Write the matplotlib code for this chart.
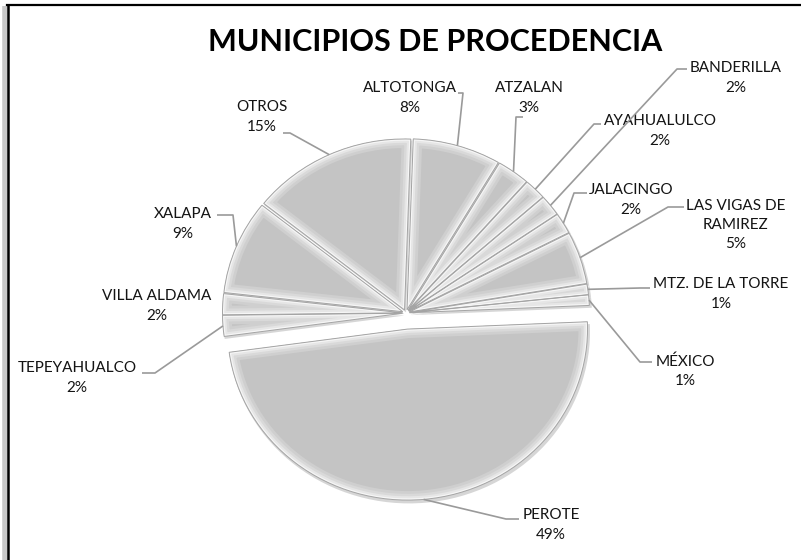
import matplotlib
matplotlib.use("Agg")
import matplotlib.pyplot as plt
from matplotlib.patches import Wedge
import numpy as np

# ---- data ----
municipios = ["ALTOTONGA", "ATZALAN", "AYAHUALULCO", "BANDERILLA", "JALACINGO",
              "LAS VIGAS DE\nRAMIREZ", "MTZ. DE LA TORRE", "MÉXICO", "PEROTE",
              "TEPEYAHUALCO", "VILLA ALDAMA", "XALAPA", "OTROS"]
porcentajes = [8, 3, 2, 2, 2, 5, 1, 1, 49, 2, 2, 9, 15]
titulo = "MUNICIPIOS DE PROCEDENCIA"

# ---- layout (pixel positions, top-left origin) ----
W, H = 801, 560
SY = 0.95  # vertical squash of the tilted pie
label_pos = {   # centre of text block
    "ALTOTONGA": (410, 98), "ATZALAN": (529, 98), "AYAHUALULCO": (660, 131),
    "BANDERILLA": (736, 78), "JALACINGO": (631, 200), "LAS VIGAS DE\nRAMIREZ": (736, 225),
    "MTZ. DE LA TORRE": (721, 294), "MÉXICO": (685, 371), "PEROTE": (551, 525),
    "TEPEYAHUALCO": (77, 378), "VILLA ALDAMA": (157, 306), "XALAPA": (183, 224),
    "OTROS": (262, 117),
}
leader = {   # (start at label, elbow) ; end is computed on the wedge edge
    "ALTOTONGA": [(458, 93), (463, 93)],
    "ATZALAN": [(523, 117), (516, 117)],
    "AYAHUALULCO": [(601, 124), (594, 124)],
    "BANDERILLA": [(687, 69), (677, 69)],
    "JALACINGO": [(587, 193), (574, 193)],
    "LAS VIGAS DE\nRAMIREZ": [(684, 207), (668, 207)],
    "MTZ. DE LA TORRE": [(650, 288), (640, 288)],
    "MÉXICO": [(652, 362), (640, 362)],
    "PEROTE": [(519, 519), (506, 519)],
    "TEPEYAHUALCO": [(142, 373), (155, 373)],
    "XALAPA": [(217, 215), (233, 215)],
    "OTROS": [(283, 133), (290, 133)],
}
CX, CY, R = 406, 313, 180
GAP_SMALL, GAP_BIG = 3.5, 17

def px(x, y):
    return x, (H - y) / SY

plt.rcParams['font.family'] = ['Lato', 'DejaVu Sans']
fig = plt.figure(figsize=(W / 100, H / 100), dpi=100)
ax = fig.add_axes([0, 0, 1, 1])

explode = [GAP_BIG if p == max(porcentajes) else GAP_SMALL for p in porcentajes]
wedges, _ = ax.pie(porcentajes, explode=explode, startangle=88, counterclock=False,
                   center=px(CX, CY), radius=R,
                   colors=['#c4c4c4'] * len(porcentajes),
                   wedgeprops=dict(edgecolor='none', linewidth=0, zorder=3))
ax.set_aspect('auto')
ax.set_xlim(0, W)
ax.set_ylim(0, H / SY)
ax.axis('off')

for w in wedges:
    c, r, t1, t2 = w.center, w.r, w.theta1, w.theta2
    sh = Wedge((c[0] + 1.5, c[1] - 2.5), r + 1, t1, t2, facecolor='#8a8a8a', alpha=0.35,
               edgecolor='none', zorder=2)
    ax.add_patch(sh)
    for lw, col in [(13, '#cfcfcf'), (9, '#d9d9d9'), (5.5, '#e6e6e6'), (2.5, '#f6f6f6')]:
        b = Wedge(c, r, t1, t2, facecolor='none', edgecolor=col, linewidth=lw, zorder=4,
                  joinstyle='miter')
        ax.add_patch(b)
        b.set_clip_path(w)
    ax.add_patch(Wedge(c, r, t1, t2, facecolor='none', edgecolor='#a4a4a4',
                       linewidth=0.7, zorder=5))

for w, name, p in zip(wedges, municipios, porcentajes):
    lx, ly = label_pos[name]
    ax.text(*px(lx, ly), f"{name}\n{p}%", ha='center', va='center', fontsize=11,
            color='#141414', linespacing=1.5, zorder=6)
    if name in leader:
        mid = np.deg2rad((w.theta1 + w.theta2) / 2)
        ex = w.center[0] + w.r * np.cos(mid)
        ey = w.center[1] + w.r * np.sin(mid)
        pts = [px(*q) for q in leader[name]] + [(ex, ey)]
        xs, ys = zip(*pts)
        ax.plot(xs, ys, color='#9a9a9a', lw=1.2, zorder=6, solid_capstyle='butt')

ax.text(*px(435, 42), titulo, ha='center', va='center', fontsize=22,
        fontweight='bold', color='black', zorder=6)

# chart frame (cropped at right and bottom)
ax.plot([px(5, 0)[0]] * 2, [px(0, 6)[1], px(0, H)[1]], color='#c8c8c8', lw=4, zorder=1,
        solid_capstyle='butt')
ax.plot([px(7, 0)[0], W], [px(0, 5)[1]] * 2, color='black', lw=1.6, zorder=7)
ax.plot([px(8, 0)[0]] * 2, [px(0, 5)[1], px(0, H)[1]], color='black', lw=1.8, zorder=7)

fig.savefig("out.png", dpi=100, facecolor='white')
